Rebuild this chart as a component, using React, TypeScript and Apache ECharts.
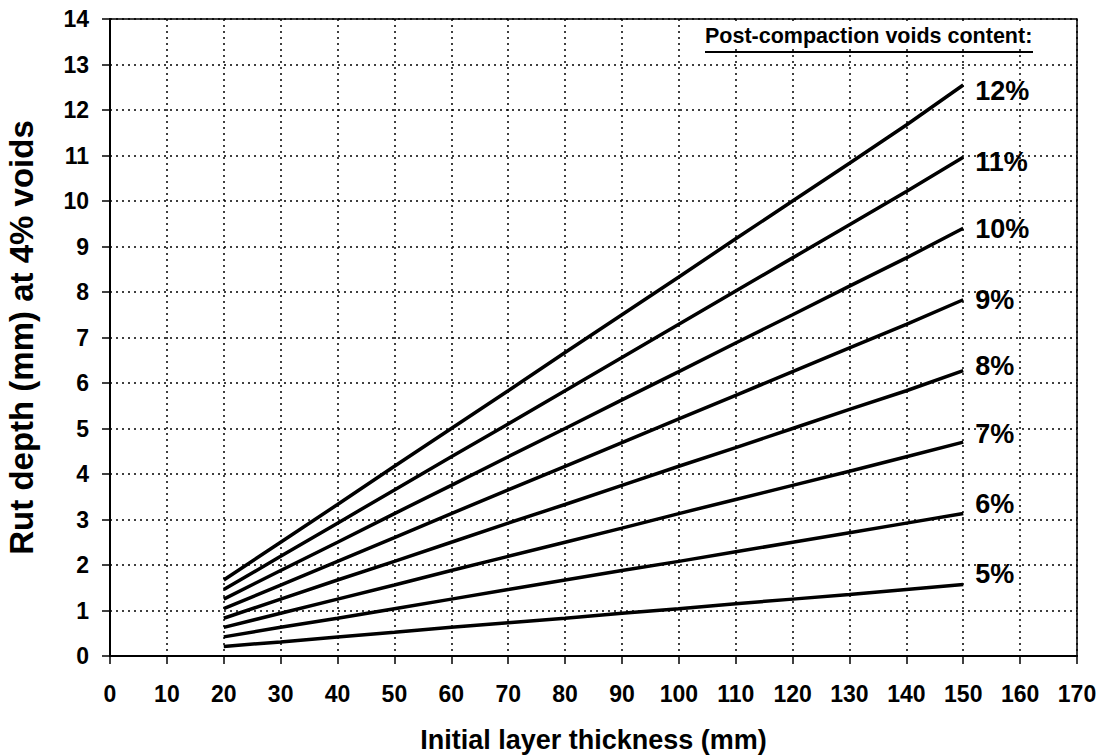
import React, { useEffect, useRef } from "react";
import * as echarts from "echarts";

const thickness = [20, 30, 40, 50, 60, 70, 80, 90, 100, 110, 120, 130, 140, 150];

const voids12 = [1.67, 2.5, 3.33, 4.17, 5.0, 5.83, 6.67, 7.5, 8.33, 9.17, 10.0, 10.83, 11.67, 12.55];
const voids11 = [1.46, 2.19, 2.92, 3.65, 4.38, 5.1, 5.83, 6.56, 7.29, 8.02, 8.75, 9.48, 10.21, 10.96];
const voids10 = [1.25, 1.88, 2.5, 3.13, 3.75, 4.38, 5.0, 5.63, 6.25, 6.88, 7.5, 8.13, 8.75, 9.4];
const voids9 = [1.04, 1.56, 2.08, 2.6, 3.13, 3.65, 4.17, 4.69, 5.21, 5.73, 6.25, 6.77, 7.29, 7.83];
const voids8 = [0.83, 1.25, 1.67, 2.08, 2.5, 2.92, 3.33, 3.75, 4.17, 4.58, 5.0, 5.42, 5.83, 6.27];
const voids7 = [0.63, 0.94, 1.25, 1.56, 1.88, 2.19, 2.5, 2.81, 3.13, 3.44, 3.75, 4.06, 4.38, 4.7];
const voids6 = [0.42, 0.63, 0.83, 1.04, 1.25, 1.46, 1.67, 1.88, 2.08, 2.29, 2.5, 2.71, 2.92, 3.13];
const voids5 = [0.21, 0.31, 0.42, 0.52, 0.63, 0.73, 0.83, 0.94, 1.04, 1.15, 1.25, 1.35, 1.46, 1.57];

const seriesNames = ["12%", "11%", "10%", "9%", "8%", "7%", "6%", "5%"];
const seriesValues = [voids12, voids11, voids10, voids9, voids8, voids7, voids6, voids5];
const labelOffsets = [6, 5, 1, 0, -5, -8, -10, -11];

const xTitle = "Initial layer thickness (mm)";
const yTitle = "Rut depth (mm) at 4% voids";
const legendTitle = "Post-compaction voids content:";

const FONT = "Arial, 'Liberation Sans', Helvetica, sans-serif";

export default function App() {
  const ref = useRef<HTMLDivElement>(null);
  useEffect(() => {
    if (!ref.current) return;
    const chart = echarts.init(ref.current, undefined, { renderer: "svg" });
    const series = seriesNames.map((name, i) => ({
      name,
      type: "line",
      data: thickness.map((t, j) => [t, seriesValues[i][j]]),
      showSymbol: false,
      symbol: "none",
      lineStyle: { color: "#000", width: 3.5 },
      endLabel: {
        show: true,
        formatter: "{a}",
        distance: 12,
        offset: [0, labelOffsets[i]],
        color: "#000",
        fontFamily: FONT,
        fontWeight: "bold",
        fontSize: 27,
      },
      emphasis: { disabled: true },
      silent: true,
    }));
    chart.setOption({
      animation: false,
      backgroundColor: "#fff",
      grid: {
        left: 110,
        right: 27,
        top: 19,
        bottom: 99,
        containLabel: false,
        outerBoundsMode: "none",
        show: true,
        borderColor: "#000",
        borderWidth: 1.5,
        backgroundColor: "transparent",
      },
      xAxis: {
        type: "value",
        min: 0,
        max: 170,
        interval: 10,
        name: xTitle,
        nameLocation: "middle",
        nameGap: 70,
        nameTextStyle: { color: "#000", fontFamily: FONT, fontWeight: "bold", fontSize: 27 },
        axisLine: { show: true, lineStyle: { color: "#000", width: 2 } },
        axisTick: { show: true, length: 8, lineStyle: { color: "#000", width: 1.5 } },
        axisLabel: { color: "#000", fontFamily: FONT, fontWeight: "bold", fontSize: 23, margin: 26 },
        splitLine: { show: true, lineStyle: { color: "#000", width: 1.5, type: [2, 4] } },
      },
      yAxis: {
        type: "value",
        min: 0,
        max: 14,
        interval: 1,
        name: yTitle,
        nameLocation: "middle",
        nameGap: 72,
        nameRotate: 90,
        nameTextStyle: { color: "#000", fontFamily: FONT, fontWeight: "bold", fontSize: 33 },
        axisLine: { show: true, lineStyle: { color: "#000", width: 2 } },
        axisTick: { show: true, length: 8, lineStyle: { color: "#000", width: 1.5 } },
        axisLabel: { color: "#000", fontFamily: FONT, fontWeight: "bold", fontSize: 23, margin: 21 },
        splitLine: { show: true, lineStyle: { color: "#000", width: 1.5, type: [2, 4] } },
      },
      graphic: [
        {
          type: "text",
          left: 705,
          top: 25,
          style: {
            text: legendTitle,
            fill: "#000",
            font: `bold 21.5px ${FONT}`,
            textBackgroundColor: "#fff",
          },
          z: 100,
        },
        {
          type: "rect",
          left: 705,
          top: 51,
          shape: { width: 328, height: 2 },
          style: { fill: "#000" },
          z: 100,
        },
      ],
      series,
    });
    return () => chart.dispose();
  }, []);
  return <div ref={ref} style={{ width: 1104, height: 755, position: "absolute", left: 0, top: 0 }} />;
}
